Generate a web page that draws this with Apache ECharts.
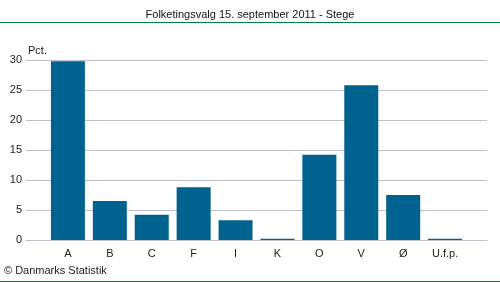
<!DOCTYPE html>
<html><head><meta charset="utf-8">
<script src="https://cdn.jsdelivr.net/npm/echarts@6/dist/echarts.min.js"></script>
<style>html,body{margin:0;padding:0;background:#fff}#c{width:500px;height:282px}</style>
</head><body><div id="c"></div>
<script>
const title = 'Folketingsvalg 15. september 2011 - Stege';
const categories = ['A','B','C','F','I','K','O','V','Ø','U.f.p.'];
const values = [29.8, 6.5, 4.2, 8.8, 3.3, 0.2, 14.2, 25.8, 7.5, 0.2];
const yTicks = [0, 5, 10, 15, 20, 25, 30];
const unitLabel = 'Pct.';
const source = '© Danmarks Statistik';

const font = 'Liberation Sans, Arial, sans-serif';
const cats = [''].concat(categories, ['']);
const data = [null].concat(values, [null]);
const chart = echarts.init(document.getElementById('c'), null, {renderer:'canvas'});
chart.setOption({
  animation:false,
  textStyle:{fontFamily:font},
  grid:{left:26, right:13, top:60, bottom:42, containLabel:false},
  xAxis:{type:'category', data:cats, boundaryGap:false,
    axisLine:{show:true, lineStyle:{color:'#bfbfca', width:1}},
    axisTick:{show:false},
    splitLine:{show:false},
    axisLabel:{color:'#222', fontSize:11, fontFamily:font, margin:8, interval:0}},
  yAxis:{type:'value', min:yTicks[0], max:yTicks[yTicks.length-1], interval:5,
    axisLine:{show:false}, axisTick:{show:false},
    splitLine:{lineStyle:{color:'#bfbfca', width:1}},
    axisLabel:{color:'#222', fontSize:11, fontFamily:font, margin:4}},
  series:[{type:'bar', data:data, barWidth:34, itemStyle:{color:'#00628f'}, z:3}],
  graphic:[
    {type:'text', left:'center', top:9, style:{text:title, font:'11px '+font, fill:'#111'}},
    {type:'line', shape:{x1:0,y1:22.5,x2:500,y2:22.5}, style:{stroke:'#008040', lineWidth:1}},
    {type:'line', shape:{x1:0,y1:281.5,x2:500,y2:281.5}, style:{stroke:'#1a7048', lineWidth:1}},
    {type:'text', left:28, top:45, style:{text:unitLabel, font:'11px '+font, fill:'#222'}},
    {type:'text', left:4, top:265, style:{text:source, font:'11px '+font, fill:'#222'}}
  ]
});
</script></body></html>
